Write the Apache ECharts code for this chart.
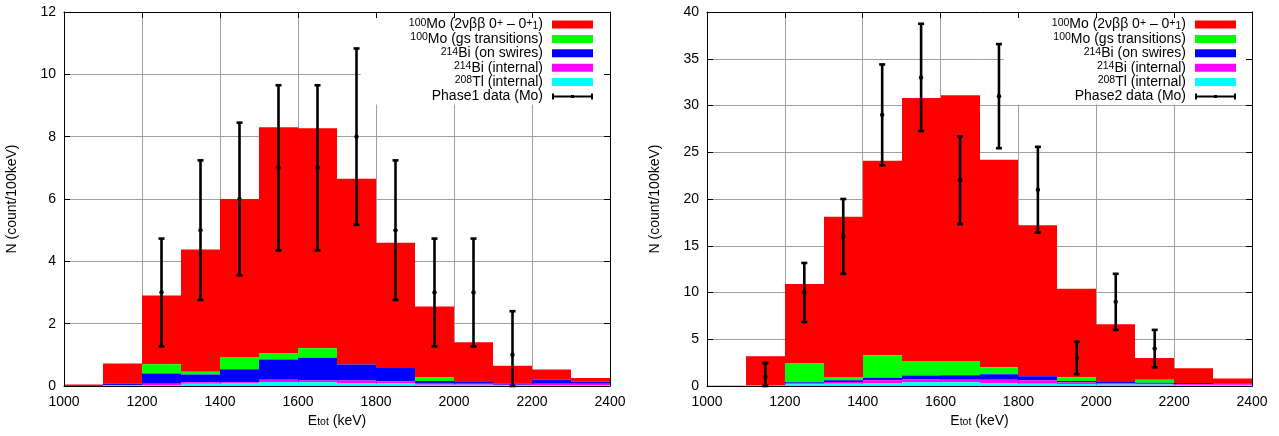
<!DOCTYPE html>
<html><head><meta charset="utf-8">
<script src="https://cdn.jsdelivr.net/npm/echarts@6/dist/echarts.min.js"></script>
<style>html,body{margin:0;padding:0;background:#fff}#c{width:1279px;height:436px}</style>
</head><body><div id="c"></div>
<script>
// ---------- data ----------
const BIN_EDGES = [1000,1100,1200,1300,1400,1500,1600,1700,1800,1900,2000,2100,2200,2300,2400];
const X_TICKS = {min:1000, max:2400, interval:200};
const Y1_TICKS = {min:0, max:12, interval:2};
const Y2_TICKS = {min:0, max:40, interval:5};

const COMPONENT_NAMES = ['100Mo (2νββ 0+ – 0+1)','100Mo (gs transitions)','214Bi (on swires)','214Bi (internal)','208Tl (internal)'];
const DATA1_NAME = 'Phase1 data (Mo)';
const DATA2_NAME = 'Phase2 data (Mo)';

// Phase 1 components (counts per bin)
const P1_MO_EXC   = [0.05,0.64,2.20,3.92,5.07,7.26,7.06,5.96,4.02,2.28,1.27,0.58,0.33,0.12];
const P1_MO_GS    = [0,0,0.30,0.09,0.39,0.19,0.30,0,0,0.11,0,0,0,0];
const P1_BI_SW    = [0,0.05,0.33,0.25,0.42,0.65,0.73,0.51,0.43,0.06,0.06,0.03,0.13,0.07];
const P1_BI_INT   = [0,0.01,0.04,0.05,0.04,0.07,0.06,0.08,0.07,0.06,0.03,0.01,0.04,0.04];
const P1_TL_INT   = [0,0.02,0.03,0.07,0.08,0.13,0.12,0.10,0.08,0.04,0.04,0.03,0.03,0.03];
// Phase 1 data points
const P1_DATA_X  = [1250,1350,1450,1550,1650,1750,1850,1950,2050,2150];
const P1_DATA_Y  = [3,5,6,7,7,8,5,3,3,1];
const P1_ERR_LO  = [1.73,2.24,2.45,2.65,2.65,2.83,2.24,1.73,1.73,1.0];
const P1_ERR_HI  = [1.73,2.24,2.45,2.65,2.65,2.83,2.24,1.73,1.73,1.4];

// Phase 2 components
const P2_MO_EXC   = [0.02,3.12,8.50,17.14,20.81,28.12,28.42,22.20,16.16,9.47,6.17,2.32,1.58,0.54];
const P2_MO_GS    = [0,0,2.00,0.35,2.40,1.57,1.54,0.75,0,0.39,0,0.32,0,0];
const P2_BI_SW    = [0.01,0.01,0.10,0.18,0.28,0.40,0.39,0.57,0.43,0.14,0.14,0.11,0.12,0.07];
const P2_BI_INT   = [0,0.01,0.10,0.18,0.29,0.32,0.36,0.36,0.36,0.18,0.14,0.10,0.08,0.07];
const P2_TL_INT   = [0.02,0.04,0.20,0.25,0.32,0.39,0.39,0.32,0.25,0.22,0.15,0.15,0.12,0.11];
// Phase 2 data points
const P2_DATA_X  = [1150,1250,1350,1450,1550,1650,1750,1850,1950,2050,2150];
const P2_DATA_Y  = [1,10,16,29,33,22,31,21,3,9,4];
const P2_ERR_LO  = [1.0,3.16,4.0,5.39,5.74,4.69,5.57,4.58,1.73,3.0,2.0];
const P2_ERR_HI  = [1.46,3.16,4.0,5.39,5.74,4.69,5.57,4.58,1.73,3.0,2.0];

// ---------- styling ----------
const FONT = 'Liberation Sans';
const COLORS = ['#ff0000','#00ff00','#0000ff','#ff00ff','#00ffff'];
const GRID_COLOR = '#a0a0a0';
const LEGEND_RICH_TEXT = {
  '100Mo (2νββ 0+ – 0+1)': '{s|100}{n|Mo (2νββ 0}{s|+}{n| – 0}{s|+}{b|1}{n|)}{g| }',
  '100Mo (gs transitions)': '{s|100}{n|Mo (gs transitions)}{g| }',
  '214Bi (on swires)': '{s|214}{n|Bi (on swires)}{g| }',
  '214Bi (internal)': '{s|214}{n|Bi (internal)}{g| }',
  '208Tl (internal)': '{s|208}{n|Tl (internal)}{g| }',
  'Phase1 data (Mo)': '{n|Phase1 data (Mo)}{g| }',
  'Phase2 data (Mo)': '{n|Phase2 data (Mo)}{g| }'
};
const RICH = {
  n: {fontSize:14, lineHeight:14, fontFamily:FONT, color:'#000'},
  s: {fontSize:10.5, lineHeight:2, verticalAlign:'top', fontFamily:FONT, color:'#000'},
  b: {fontSize:10.5, lineHeight:6, verticalAlign:'bottom', fontFamily:FONT, color:'#000'},
  x: {fontSize:10.5, lineHeight:1, verticalAlign:'bottom', fontFamily:FONT, color:'#000'},
  g: {width:4, fontSize:14, lineHeight:14}
};
const ERR_ICON = 'path://M0,0H2V6H0Z M39,0H41V6H39Z M2,2H39V4H2Z M19,1.5H22V4.5H19Z';

const GRIDS = [
  {left:64, top:12, width:546, height:374},
  {left:707, top:12, width:545, height:374}
];

function axesFor(g, yt) {
  const tickStyle = {color:'#000', width:1};
  const lbl = {fontSize:14, color:'#000', fontFamily:FONT, formatter:(v) => String(v)};
  const xs = [
    {gridIndex:g, type:'value', ...X_TICKS, position:'bottom', z:0,
     axisLine:{show:false, onZero:false}, axisTick:{show:true, inside:true, length:6, lineStyle:tickStyle},
     axisLabel:{...lbl, margin:9}, splitLine:{show:true, lineStyle:{color:GRID_COLOR, width:1}},
     name:'{n|E}{x|tot}{n| (keV)}', nameLocation:'middle', nameGap:26,
     nameTextStyle:{fontSize:14, fontFamily:FONT, color:'#000', rich:RICH}},
    {gridIndex:g, type:'value', ...X_TICKS, position:'bottom', z:10,
     axisLine:{show:true, onZero:false, lineStyle:{color:'#000', width:1}}, axisTick:{show:false},
     axisLabel:{show:false}, splitLine:{show:false}},
    {gridIndex:g, type:'value', ...X_TICKS, position:'top', z:10,
     axisLine:{show:true, onZero:false, lineStyle:{color:'#000', width:1}},
     axisTick:{show:true, inside:true, length:6, lineStyle:tickStyle},
     axisLabel:{show:false}, splitLine:{show:false}}
  ];
  const ys = [
    {gridIndex:g, type:'value', ...yt, position:'left', z:0,
     axisLine:{show:false, onZero:false}, axisTick:{show:true, inside:true, length:6, lineStyle:tickStyle},
     axisLabel:{...lbl, margin:8}, splitLine:{show:true, lineStyle:{color:GRID_COLOR, width:1}},
     name:'N (count/100keV)', nameLocation:'middle', nameGap:45, nameRotate:90,
     nameTextStyle:{fontSize:14, fontFamily:FONT, color:'#000'}},
    {gridIndex:g, type:'value', ...yt, position:'left', z:10,
     axisLine:{show:true, onZero:false, lineStyle:{color:'#000', width:1}}, axisTick:{show:false},
     axisLabel:{show:false}, splitLine:{show:false}},
    {gridIndex:g, type:'value', ...yt, position:'right', z:10,
     axisLine:{show:true, onZero:false, lineStyle:{color:'#000', width:1}},
     axisTick:{show:true, inside:true, length:6, lineStyle:tickStyle},
     axisLabel:{show:false}, splitLine:{show:false}}
  ];
  return {xs, ys};
}

function histSeries(axisIdx, comps) {
  // comps ordered top -> bottom in the stack (legend order); stack from the bottom
  const out = [];
  const nb = BIN_EDGES.length - 1;
  const base = new Array(nb).fill(0);
  const built = [];
  for (let c = comps.length - 1; c >= 0; c--) {
    const data = [];
    for (let i = 0; i < nb; i++) {
      const lo = base[i], hi = base[i] + comps[c][i];
      data.push([BIN_EDGES[i], BIN_EDGES[i+1], lo, hi]);
      base[i] = hi;
    }
    built[c] = data;
  }
  for (let c = 0; c < comps.length; c++) {
    const color = COLORS[c];
    out.push({
      type:'custom', name:COMPONENT_NAMES[c], xAxisIndex:axisIdx, yAxisIndex:axisIdx,
      itemStyle:{color}, z:2, silent:true,
      encode:{x:[0,1], y:[2,3]},
      data: built[c],
      renderItem:(params, api) => {
        if (api.value(3) - api.value(2) <= 0) return null;
        const p0 = api.coord([api.value(0), api.value(2)]);
        const p1 = api.coord([api.value(1), api.value(3)]);
        const x0 = Math.round(p0[0]), x1 = Math.round(p1[0]);
        return {type:'rect', shape:{x:x0, y:p1[1], width:x1-x0, height:p0[1]-p1[1]},
                style:{fill:color}};
      }
    });
  }
  return out;
}

function errSeries(axisIdx, name, xs, ys, lo, hi) {
  const data = xs.map((x, i) => [x, ys[i], ys[i] - lo[i], ys[i] + hi[i]]);
  return {
    type:'custom', name, xAxisIndex:axisIdx, yAxisIndex:axisIdx, z:5, silent:true,
    itemStyle:{color:'#000'}, encode:{x:0, y:[1,2,3]}, data,
    renderItem:(params, api) => {
      const pc = api.coord([api.value(0), api.value(1)]);
      const pl = api.coord([api.value(0), api.value(2)]);
      const ph = api.coord([api.value(0), api.value(3)]);
      const st = {stroke:'#000', lineWidth:2.6};
      return {type:'group', children:[
        {type:'line', shape:{x1:pc[0], y1:pl[1], x2:pc[0], y2:ph[1]}, style:st},
        {type:'line', shape:{x1:pc[0]-3, y1:pl[1], x2:pc[0]+3, y2:pl[1]}, style:st},
        {type:'line', shape:{x1:pc[0]-3, y1:ph[1], x2:pc[0]+3, y2:ph[1]}, style:st},
        {type:'circle', shape:{cx:pc[0], cy:pc[1], r:2.2}, style:{fill:'#000'}}
      ]};
    }
  };
}

function legendFor(rightPx, padRight, dataName) {
  return {
    orient:'vertical', align:'right', right:rightPx, top:12,
    padding:[5.5, padRight, 1, 48], itemWidth:41, itemHeight:8, itemGap:0.4,
    backgroundColor:'#fff', selectedMode:false, z:4,
    textStyle:{fontFamily:FONT, fontSize:14, lineHeight:14, color:'#000', rich:RICH},
    formatter:(name) => LEGEND_RICH_TEXT[name] || name,
    data: COMPONENT_NAMES.map(n => ({name:n, icon:'rect'})).concat([{name:dataName, icon:ERR_ICON}])
  };
}

const a0 = axesFor(0, Y1_TICKS), a1 = axesFor(1, Y2_TICKS);
const option = {
  animation:false,
  backgroundColor:'#fff',
  grid: GRIDS,
  xAxis: a0.xs.concat(a1.xs),
  yAxis: a0.ys.concat(a1.ys),
  legend: [legendFor(1279-609, 16, DATA1_NAME), legendFor(1279-1251, 15, DATA2_NAME)],
  series: [
    ...histSeries(0, [P1_MO_EXC, P1_MO_GS, P1_BI_SW, P1_BI_INT, P1_TL_INT]),
    errSeries(0, DATA1_NAME, P1_DATA_X, P1_DATA_Y, P1_ERR_LO, P1_ERR_HI),
    ...histSeries(3, [P2_MO_EXC, P2_MO_GS, P2_BI_SW, P2_BI_INT, P2_TL_INT]),
    errSeries(3, DATA2_NAME, P2_DATA_X, P2_DATA_Y, P2_ERR_LO, P2_ERR_HI)
  ]
};
const chart = echarts.init(document.getElementById('c'), null, {renderer:'canvas'});
chart.setOption(option);
</script></body></html>
